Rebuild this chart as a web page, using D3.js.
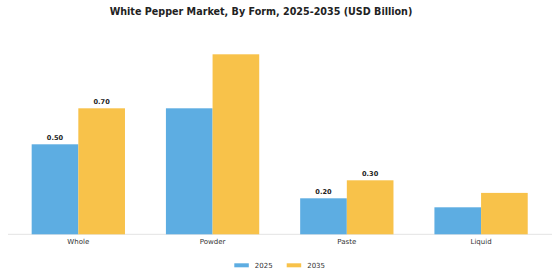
<!DOCTYPE html>
<html><head><meta charset="utf-8">
<script src="https://cdn.jsdelivr.net/npm/d3@7"></script>
<style>body{margin:0;background:#fff}svg{display:block}</style>
</head><body>
<svg id="c" width="560" height="280"></svg>
<script>
const categories = ["Whole", "Powder", "Paste", "Liquid"];
const seriesNames = ["2025", "2035"];
const values2025 = [0.50, 0.70, 0.20, 0.15];
const values2035 = [0.70, 1.00, 0.30, 0.23];
const labels2025 = ["0.50", null, "0.20", null];
const labels2035 = ["0.70", null, "0.30", null];
const colors = ["#5DADE2", "#F8C24A"];

const svg = d3.select("#c");
const font = "DejaVu Sans, sans-serif";

svg.append("text").attr("x", 261).attr("y", 15.3).attr("text-anchor", "middle")
  .attr("font-family", font).attr("font-weight", "bold").attr("font-size", 9.6)
  .attr("fill", "#222").text("White Pepper Market, By Form, 2025-2035 (USD Billion)");

const x = d3.scaleBand().domain(categories).range([11.2, 548.2]).paddingInner(0.305).paddingOuter(0.1525);
const x1 = d3.scaleBand().domain(seriesNames).range([0, x.bandwidth()]);
const y = d3.scaleLinear().domain([0, 1.0]).range([234.3, 54.3]);

const series = [values2025, values2035];
const labs = [labels2025, labels2035];

svg.append("line").attr("x1", 8).attr("x2", 552).attr("y1", y(0)).attr("y2", y(0))
  .attr("stroke", "#e3e3e3").attr("stroke-width", 1);

series.forEach((vals, si) => {
  const g = svg.append("g");
  g.selectAll("rect").data(categories).join("rect")
    .attr("x", d => x(d) + x1(seriesNames[si]))
    .attr("width", x1.bandwidth())
    .attr("y", (d, i) => y(vals[i]))
    .attr("height", (d, i) => y(0) - y(vals[i]))
    .attr("fill", colors[si]);
  g.selectAll("text").data(categories.map((c, i) => ({c, i})).filter(o => labs[si][o.i]))
    .join("text")
    .attr("x", o => x(o.c) + x1(seriesNames[si]) + x1.bandwidth() / 2)
    .attr("y", o => y(vals[o.i]) - 4)
    .attr("text-anchor", "middle").attr("font-family", font).attr("font-weight", "bold")
    .attr("font-size", 6.6).attr("fill", "#222").text(o => labs[si][o.i]);
});

const axis = d3.axisBottom(x).tickSize(0).tickPadding(5);
const ag = svg.append("g").attr("transform", `translate(0,${y(0)})`).call(axis);
ag.select(".domain").remove();
ag.selectAll("text").attr("font-family", font).attr("font-size", 7).attr("fill", "#333");

const leg = svg.append("g");
const legX = [234.3, 286.7];
seriesNames.forEach((s, i) => {
  leg.append("rect").attr("x", legX[i]).attr("y", 263.3).attr("width", 14.5).attr("height", 4).attr("fill", colors[i]);
  leg.append("text").attr("x", legX[i] + 20.5).attr("y", 267.6).attr("font-family", font)
    .attr("font-size", 7).attr("fill", "#333").text(s);
});
</script>
</body></html>
